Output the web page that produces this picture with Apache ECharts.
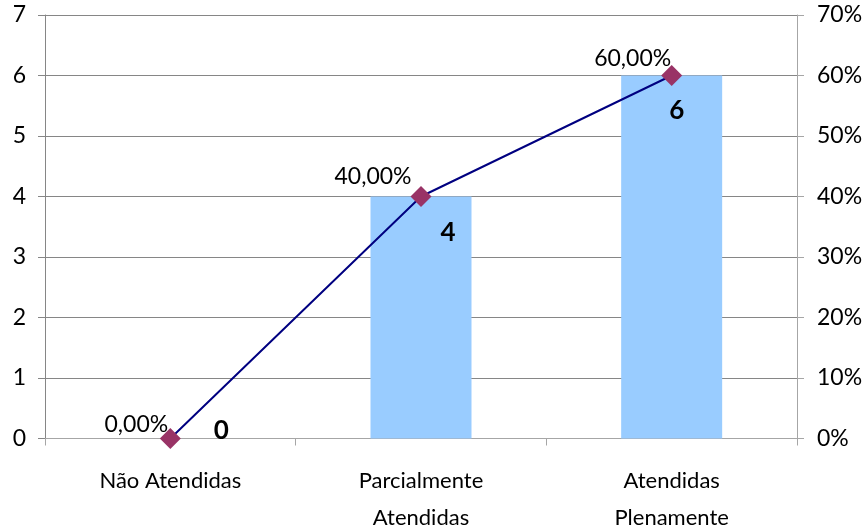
<!DOCTYPE html>
<html><head><meta charset="utf-8">
<script src="https://cdn.jsdelivr.net/npm/echarts@6/dist/echarts.min.js"></script>
<style>html,body{margin:0;padding:0;background:#fff}#c{width:867px;height:531px}</style>
</head><body><div id="c"></div>
<script>
const categories = ['Não Atendidas', 'Parcialmente\nAtendidas', 'Atendidas\nPlenamente'];
const counts = [0, 4, 6];
const percents = [0, 40, 60];
const leftTicks = {min: 0, max: 7, interval: 1};
const rightTicks = {min: 0, max: 70, interval: 10};

const barLabelOffsets = [[51, 5], [27, 49], [5, 48]];
const lineLabelOffsets = [[-34, -14], [-48, -20], [-39, -17]];

const FONT = 'Lato';
const gray = '#868686';

const chart = echarts.init(document.getElementById('c'), null, {renderer: 'canvas'});
chart.setOption({
  animation: false,
  backgroundColor: '#fff',
  textStyle: {fontFamily: FONT},
  grid: {left: 45, right: 70, top: 15, bottom: 92.5, containLabel: false, outerBoundsMode: 'none'},
  xAxis: {
    type: 'category', data: categories, boundaryGap: true,
    axisLine: {lineStyle: {color: '#a6a6a6', width: 1}},
    axisTick: {show: true, length: 7, lineStyle: {color: '#a6a6a6'}},
    axisLabel: {color: '#000', fontFamily: FONT, fontSize: 22, lineHeight: 37, margin: 24, interval: 0}
  },
  yAxis: [{
    type: 'value', min: leftTicks.min, max: leftTicks.max, interval: leftTicks.interval,
    axisLine: {show: true, lineStyle: {color: gray}},
    axisTick: {show: true, length: 7, lineStyle: {color: gray}},
    splitLine: {show: true, lineStyle: {color: gray, width: 1}},
    axisLabel: {color: '#000', fontFamily: FONT, fontSize: 23, margin: 19}
  }, {
    type: 'value', min: rightTicks.min, max: rightTicks.max, interval: rightTicks.interval,
    position: 'right',
    axisLine: {show: true, lineStyle: {color: '#a6a6a6'}},
    axisTick: {show: true, length: 7, lineStyle: {color: '#a6a6a6'}},
    splitLine: {show: false},
    axisLabel: {color: '#000', fontFamily: FONT, fontSize: 23, margin: 20, formatter: '{value}%'}
  }],
  series: [{
    type: 'bar', yAxisIndex: 0, barWidth: 101,
    itemStyle: {color: '#99CCFF'},
    data: counts.map((v, i) => ({
      value: v,
      label: {show: true, position: 'top', distance: 0, offset: barLabelOffsets[i],
        color: '#000', fontFamily: FONT, fontWeight: 'bold', fontSize: 26}
    })),
    z: 2
  }, {
    type: 'line', yAxisIndex: 1,
    symbol: 'diamond', symbolSize: 21,
    lineStyle: {color: '#000080', width: 2},
    itemStyle: {color: '#993366'},
    data: percents.map((v, i) => ({
      value: v,
      label: {show: true, position: 'inside', offset: lineLabelOffsets[i],
        color: '#000', fontFamily: FONT, fontSize: 23,
        formatter: p => p.value.toFixed(2).replace('.', ',') + '%'}
    })),
    z: 3
  }]
});
</script></body></html>
